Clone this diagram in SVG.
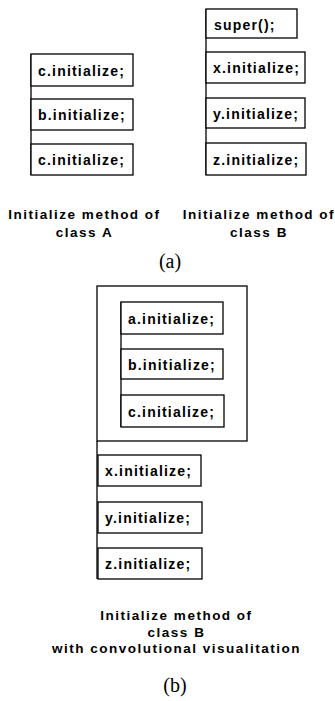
<svg xmlns="http://www.w3.org/2000/svg" width="335" height="701" viewBox="0 0 335 701">
<style>
.box{fill:#fff;stroke:#000;stroke-width:1.3}
.ln{fill:none;stroke:#000;stroke-width:1.3}
.t{font-family:"Liberation Sans",Arial,sans-serif;font-weight:bold;font-size:14px;letter-spacing:1.2px;fill:#000}
.lb{font-family:"Liberation Sans",Arial,sans-serif;font-weight:bold;font-size:13.5px;letter-spacing:1.5px;fill:#000;text-anchor:middle}
.cap{font-family:"Liberation Serif","Times New Roman",serif;font-size:20px;fill:#000;text-anchor:middle}
</style>
<rect width="335" height="701" fill="#fff"/>
<g id="connectors">
<line class="ln" x1="31" y1="54" x2="31" y2="175"/>
<line class="ln" x1="206" y1="9" x2="206" y2="175"/>
<line class="ln" x1="97" y1="441" x2="97" y2="579"/>
</g>
<g id="outerA">
<rect class="box" x="97" y="286" width="150" height="155"/>
</g>
<g id="innerConnector"><line class="ln" x1="121" y1="302" x2="121" y2="427"/></g>
<g id="A1"><rect class="box" x="31" y="54" width="102" height="32"/><text class="t" x="38" y="76">c.initialize;</text></g>
<g id="A2"><rect class="box" x="31" y="99" width="102" height="31"/><text class="t" x="38" y="120">b.initialize;</text></g>
<g id="A3"><rect class="box" x="31" y="144" width="102" height="31"/><text class="t" x="38" y="165">c.initialize;</text></g>
<g id="B0"><rect class="box" x="206" y="9" width="91" height="29"/><text class="t" x="214" y="30">super();</text></g>
<g id="B1"><rect class="box" x="206" y="52" width="99" height="31"/><text class="t" x="213" y="73">x.initialize;</text></g>
<g id="B2"><rect class="box" x="206" y="98" width="99" height="30"/><text class="t" x="213" y="119">y.initialize;</text></g>
<g id="B3"><rect class="box" x="206" y="143" width="100" height="32"/><text class="t" x="213" y="165">z.initialize;</text></g>
<g id="labelA"><text class="lb" x="84.5" y="219">Initialize method of</text><text class="lb" x="84.5" y="237">class A</text></g>
<g id="labelB"><text class="lb" x="259" y="219">Initialize method of</text><text class="lb" x="259" y="237">class B</text></g>
<text class="cap" x="170" y="268">(a)</text>
<g id="C1"><rect class="box" x="121" y="302" width="102" height="32"/><text class="t" x="128" y="324">a.initialize;</text></g>
<g id="C2"><rect class="box" x="121" y="349" width="102" height="30"/><text class="t" x="128" y="370">b.initialize;</text></g>
<g id="C3"><rect class="box" x="121" y="395" width="103" height="32"/><text class="t" x="128" y="417">c.initialize;</text></g>
<g id="D1"><rect class="box" x="98" y="455" width="103" height="31"/><text class="t" x="105" y="476">x.initialize;</text></g>
<g id="D2"><rect class="box" x="98" y="502" width="104" height="31"/><text class="t" x="105" y="523">y.initialize;</text></g>
<g id="D3"><rect class="box" x="98" y="548" width="104" height="31"/><text class="t" x="105" y="569">z.initialize;</text></g>
<g id="labelC"><text class="lb" x="176.5" y="620">Initialize method of</text><text class="lb" x="176.5" y="637">class B</text><text class="lb" x="176.5" y="653">with convolutional visualitation</text></g>
<text class="cap" x="175" y="692">(b)</text>
</svg>
